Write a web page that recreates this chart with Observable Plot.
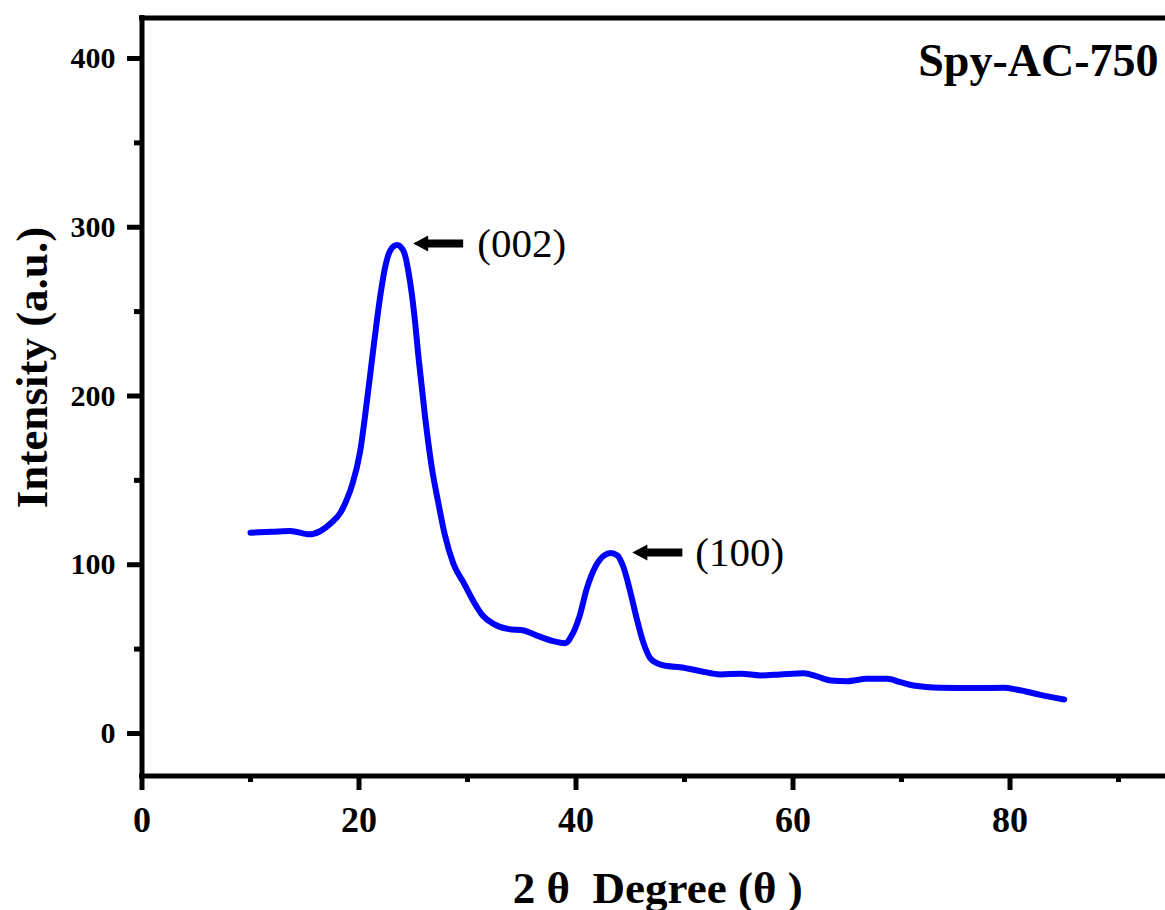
<!DOCTYPE html>
<html><head><meta charset="utf-8">
<script src="https://cdn.jsdelivr.net/npm/d3@7"></script>
<script src="https://cdn.jsdelivr.net/npm/@observablehq/plot@0.6"></script>
<style>html,body{margin:0;padding:0;background:#fff;overflow:hidden;}</style>
</head><body><div id="chart"></div>
<script>
const twoTheta = [10.0, 12.0, 13.7, 15.4, 16.45, 17.4, 18.3, 18.9, 19.4, 20.1, 20.75, 21.4, 22.0, 22.4, 22.9, 23.5, 24.1, 24.6, 25.1, 25.5, 26.1, 26.7, 27.3, 27.9, 28.7, 29.7, 30.6, 31.4, 32.4, 33.7, 35.2, 36.4, 37.9, 39.0, 39.6, 40.3, 41.0, 41.8, 42.6, 43.2, 43.8, 44.4, 45.0, 45.6, 46.2, 46.8, 47.5, 48.4, 49.6, 51.5, 53.3, 55.2, 57.0, 58.8, 61.0, 62.2, 63.5, 65.0, 66.8, 68.7, 69.9, 71.1, 73.6, 76.7, 79.4, 80.7, 82.8, 85.0];
const intensity = [119, 119.5, 120, 118, 120, 124.6, 131, 139, 148, 167, 198, 232, 261, 276, 286.5, 289.5, 286, 272, 248, 222, 187, 158, 137, 118, 100.6, 88.7, 77.8, 69.9, 65, 62, 61, 58, 54.7, 53.5, 58, 69, 86, 99, 105.5, 107, 105.5, 98, 84, 68, 54, 45, 41.5, 40, 39.3, 36.9, 35, 35.4, 34.4, 35, 35.7, 33.8, 31.4, 31, 32.4, 32.4, 30.4, 28.4, 27.1, 26.9, 27.1, 25.9, 22.9, 20.1];

const xMajorTicks = [0, 20, 40, 60, 80];
const xMinorTicks = [10, 30, 50, 70, 90];
const yMajorTicks = [0, 100, 200, 300, 400];
const yMinorTicks = [50, 150, 250, 350];

const peakLabels = ["(002)", "(100)"];
const arrowTailX = [29.6, 49.8];
const peakLabelY = [290.4, 107.3];
const peakLabelX = [30.9, 51.0];

const sampleName = "Spy-AC-750";
const xTitle = "2 \u03b8  Degree (\u03b8 )";
const yTitle = "Intensity (a.u.)";

const curve = twoTheta.map((x, i) => ({x, y: intensity[i]}));
const peaks = peakLabels.map((t, i) => ({t, tx: arrowTailX[i], lx: peakLabelX[i], y: peakLabelY[i]}));

const arrowShape = {
  draw(context, l) {
    const hw = 4, hh = 8, hl = 15;
    context.moveTo(-hw, 0);
    context.lineTo(-hw, -(l - hl));
    context.lineTo(-hh, -(l - hl));
    context.lineTo(0, -l);
    context.lineTo(hh, -(l - hl));
    context.lineTo(hw, -(l - hl));
    context.lineTo(hw, 0);
    context.closePath();
  }
};

const serif = "'Liberation Serif', 'Times New Roman', serif";

const chart = Plot.plot({
  width: 1165,
  height: 910,
  marginTop: 17.5,
  marginBottom: 134.5,
  marginLeft: 141.5,
  marginRight: 0,
  style: {fontFamily: serif, color: "black", background: "white", overflow: "visible"},
  x: {domain: [0, 94.33], label: null},
  y: {domain: [-25.2, 424], label: null},
  marks: [
    Plot.axisX({ticks: xMinorTicks, tickSize: 6.5, text: null, strokeWidth: 5, label: null}),
    Plot.axisX({ticks: xMajorTicks, tickSize: 14.5, tickPadding: 16.4, strokeWidth: 5, fontSize: 36, fontWeight: "bold", tickFormat: d => String(d), label: null}),
    Plot.axisY({ticks: yMinorTicks, tickSize: 7.5, text: null, strokeWidth: 5, label: null}),
    Plot.axisY({ticks: yMajorTicks, tickSize: 14.5, tickPadding: 12, strokeWidth: 5, fontSize: 30, fontWeight: "bold", tickFormat: d => String(d), label: null}),
    Plot.ruleX([0], {strokeWidth: 5, strokeLinecap: "square"}),
    Plot.ruleY([424], {strokeWidth: 5, strokeLinecap: "square"}),
    Plot.ruleY([-25.2], {strokeWidth: 5, strokeLinecap: "square"}),
    Plot.line(curve, {x: "x", y: "y", stroke: "#0000ff", strokeWidth: 6, curve: "monotone-x", strokeLinecap: "round", strokeLinejoin: "round"}),
    Plot.vector(peaks, {x: "tx", y: "y", length: 50, rotate: -90, anchor: "start", shape: arrowShape, fill: "black", stroke: "none"}),
    Plot.text(peaks, {x: "lx", y: "y", text: "t", textAnchor: "start", lineAnchor: "middle", fontSize: 41, fill: "black"}),
    Plot.text([sampleName], {frameAnchor: "top-right", text: d => d, textAnchor: "end", lineAnchor: "bottom", dx: -7, dy: 57.5, fontSize: 46, fontWeight: "bold", fill: "black"}),
    Plot.text([xTitle], {frameAnchor: "bottom", text: d => d, textAnchor: "middle", lineAnchor: "bottom", dy: 126.5, dx: 4, fontSize: 45, fontWeight: "bold", fill: "black"}),
    Plot.text([yTitle], {frameAnchor: "left", text: d => d, textAnchor: "middle", lineAnchor: "bottom", rotate: -90, dx: -95, dy: -29.5, fontSize: 45, fontWeight: "bold", fill: "black"})
  ]
});
document.getElementById("chart").appendChild(chart);
</script>
</body></html>
